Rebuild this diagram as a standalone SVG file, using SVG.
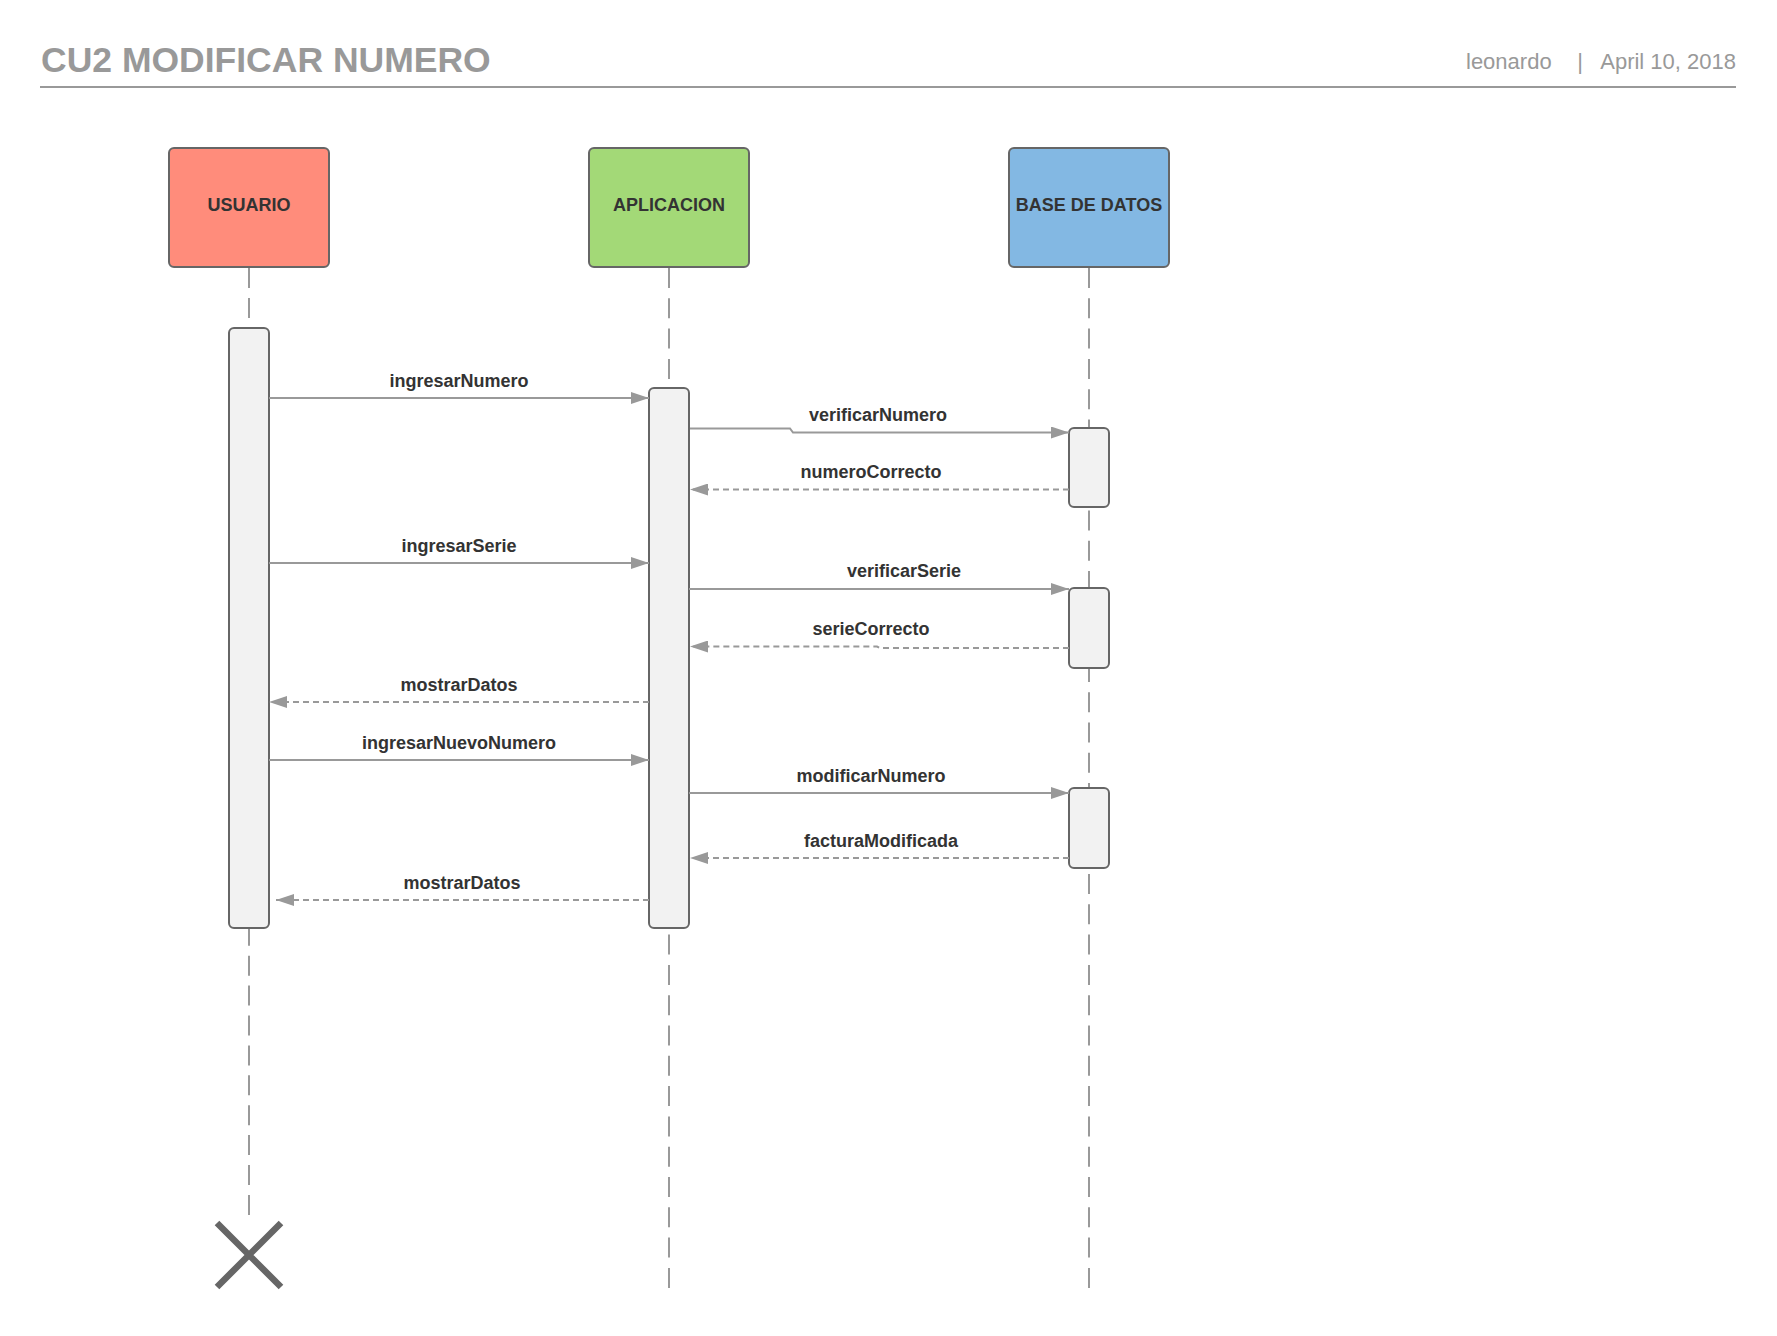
<svg xmlns="http://www.w3.org/2000/svg" width="1777" height="1336" viewBox="0 0 1777 1336">
<style>
  .title { font-family: "Liberation Sans", Arial, sans-serif; font-weight: bold; font-size: 35.5px; fill: #999999; }
  .meta { font-family: "Liberation Sans", Arial, sans-serif; font-size: 22px; fill: #999999; }
  .head { stroke: #666666; stroke-width: 2; }
  .nlabel { font-family: "Liberation Sans", Arial, sans-serif; font-weight: bold; font-size: 18px; fill: #333333; text-anchor: middle; }
  .life { stroke: #999999; stroke-width: 2; fill: none; }
  .act { fill: #f2f2f2; stroke: #666666; stroke-width: 2; }
  .msg { stroke: #999999; stroke-width: 2; fill: none; marker-end: url(#arr); }
  .ret { stroke: #999999; stroke-width: 2; fill: none; stroke-dasharray: 6 4; marker-end: url(#arr); }
  .mlabel { font-family: "Liberation Sans", Arial, sans-serif; font-weight: bold; font-size: 18px; fill: #333333; text-anchor: middle; }
</style>
<defs>
  <marker id="arr" markerUnits="userSpaceOnUse" markerWidth="18" markerHeight="12" refX="18" refY="6" orient="auto">
    <path d="M0,0 L18,6 L0,12 z" fill="#999999"/>
  </marker>
</defs>
<rect x="0" y="0" width="1777" height="1336" fill="#ffffff"/>
<g id="header">
  <text class="title" x="41" y="72">CU2 MODIFICAR NUMERO</text>
  <text class="meta" x="1466" y="69">leonardo</text>
  <text class="meta" x="1580" y="69" text-anchor="middle">|</text>
  <text class="meta" x="1736" y="69" text-anchor="end">April 10, 2018</text>
  <line x1="40" y1="87" x2="1736" y2="87" stroke="#999999" stroke-width="2"/>
</g>
<g id="lifelines">
  <line class="life" x1="249" y1="268" x2="249" y2="1215" stroke-dasharray="20 9.9"/>
  <line class="life" x1="669" y1="268" x2="669" y2="1288" stroke-dasharray="20 10.3"/>
  <line class="life" x1="1089" y1="268" x2="1089" y2="1288" stroke-dasharray="20 10.3"/>
</g>
<g id="usuario">
  <rect class="head" x="169" y="148" width="160" height="119" rx="5" fill="#ff8c7b"/>
  <text class="nlabel" x="249" y="211">USUARIO</text>
</g>
<g id="aplicacion">
  <rect class="head" x="589" y="148" width="160" height="119" rx="5" fill="#a3d977"/>
  <text class="nlabel" x="669" y="211">APLICACION</text>
</g>
<g id="base-de-datos">
  <rect class="head" x="1009" y="148" width="160" height="119" rx="5" fill="#83b8e3"/>
  <text class="nlabel" x="1089" y="211">BASE DE DATOS</text>
</g>
<g id="activations">
  <rect id="act-usuario" class="act" x="229" y="328" width="40" height="600" rx="5"/>
  <rect id="act-aplicacion" class="act" x="649" y="388" width="40" height="540" rx="5"/>
  <rect id="act-bd-1" class="act" x="1069" y="428" width="40" height="79" rx="5"/>
  <rect id="act-bd-2" class="act" x="1069" y="588" width="40" height="80" rx="5"/>
  <rect id="act-bd-3" class="act" x="1069" y="788" width="40" height="80" rx="5"/>
</g>
<g id="destroy">
  <path d="M217,1223 L281,1287 M281,1223 L217,1287" stroke="#666666" stroke-width="6.5" fill="none"/>
</g>
<g id="connectors">
  <line class="msg" x1="269" y1="398" x2="649" y2="398"/>
  <text class="mlabel" x="459" y="387">ingresarNumero</text>

  <path class="msg" d="M690,428.5 L790,428.5 L793,432.5 L1069,432.5"/>
  <text class="mlabel" x="878" y="421">verificarNumero</text>

  <line class="ret" x1="1069" y1="489.5" x2="690" y2="489.5"/>
  <text class="mlabel" x="871" y="478">numeroCorrecto</text>

  <line class="msg" x1="269" y1="563" x2="649" y2="563"/>
  <text class="mlabel" x="459" y="552">ingresarSerie</text>

  <line class="msg" x1="689" y1="589" x2="1069" y2="589"/>
  <text class="mlabel" x="904" y="577">verificarSerie</text>

  <path class="ret" d="M1069,648 L880,648 L877,646.5 L690,646.5"/>
  <text class="mlabel" x="871" y="635">serieCorrecto</text>

  <line class="ret" x1="649" y1="702" x2="269" y2="702"/>
  <text class="mlabel" x="459" y="691">mostrarDatos</text>

  <line class="msg" x1="269" y1="760" x2="649" y2="760"/>
  <text class="mlabel" x="459" y="749">ingresarNuevoNumero</text>

  <line class="msg" x1="689" y1="793" x2="1069" y2="793"/>
  <text class="mlabel" x="871" y="782">modificarNumero</text>

  <line class="ret" x1="1069" y1="858" x2="690" y2="858"/>
  <text class="mlabel" x="881" y="847">facturaModificada</text>

  <line class="ret" x1="649" y1="900" x2="276" y2="900"/>
  <text class="mlabel" x="462" y="889">mostrarDatos</text>
</g>
</svg>
